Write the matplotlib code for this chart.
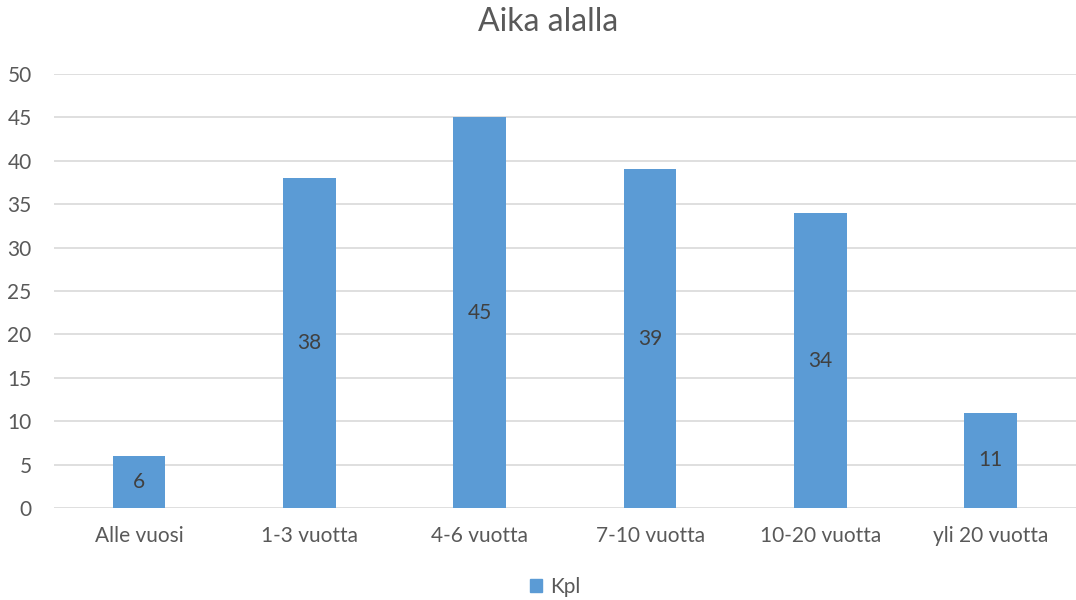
import matplotlib
matplotlib.use("Agg")
import matplotlib.pyplot as plt
from matplotlib.patches import Patch

plt.rcParams['font.family'] = ['Lato', 'DejaVu Sans']

categories = ["Alle vuosi", "1-3 vuotta", "4-6 vuotta", "7-10 vuotta", "10-20 vuotta", "yli 20 vuotta"]
kpl = [6, 38, 45, 39, 34, 11]

bar_color = "#5B9BD5"
text_color = "#595959"

fig = plt.figure(figsize=(10.76, 6), dpi=100)
ax = fig.add_axes([0.050, 0.153, 0.950, 0.724])

x = range(len(categories))
bars = ax.bar(x, kpl, width=0.31, color=bar_color, zorder=3)
for b, v in zip(bars, kpl):
    ax.text(b.get_x() + b.get_width() / 2, v / 2, str(v), ha='center', va='center',
            fontsize=15, color="#404040", zorder=4)

ax.set_xlim(-0.5, len(categories) - 0.5)
ax.set_ylim(0, 50)
ax.set_yticks(range(0, 51, 5))
ax.set_xticks(list(x))
ax.set_xticklabels(categories)
ax.tick_params(axis='both', length=0, labelsize=15, labelcolor=text_color)
ax.tick_params(axis='x', pad=13)
ax.tick_params(axis='y', pad=16)
ax.grid(axis='y', color="#D9D9D9", linewidth=1.2, zorder=0)
for s in ax.spines.values():
    s.set_visible(False)

fig.text(0.509, 0.963, "Aika alalla", ha='center', va='center', fontsize=23, color=text_color)

fig.legend(handles=[Patch(color=bar_color, label="Kpl")], loc='center', bbox_to_anchor=(0.516, 0.022),
           frameon=False, fontsize=15, labelcolor=text_color, handlelength=0.55, handleheight=0.55,
           handletextpad=0.4)

fig.savefig("out.png", dpi=100, facecolor="white")
